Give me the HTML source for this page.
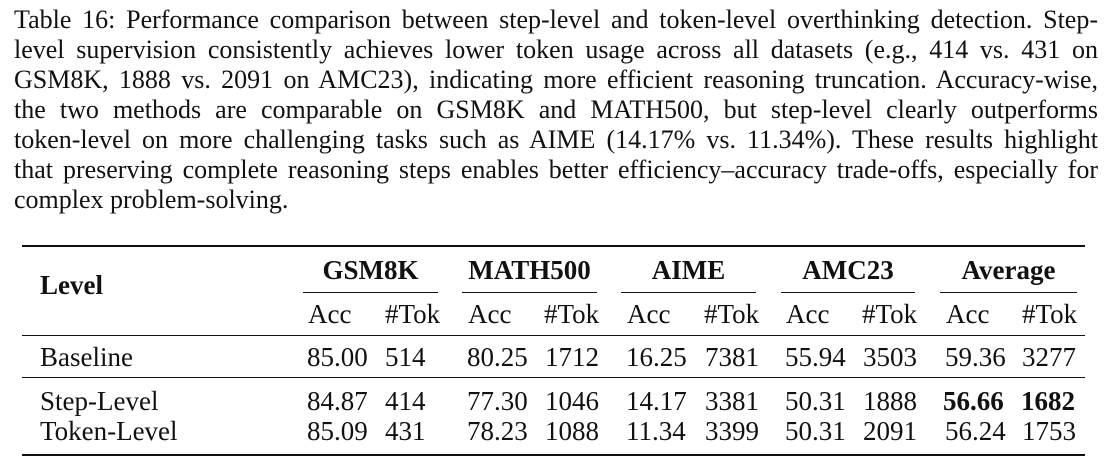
<!DOCTYPE html>
<html><head><meta charset="utf-8"><style>
body{margin:0;width:1112px;height:464px;background:#fff;position:relative;overflow:hidden;font-family:"Liberation Serif",serif;color:#111;}
.l{position:absolute;left:14px;width:1084px;font-size:26px;line-height:30px;white-space:nowrap;text-align:justify;text-align-last:justify;}
.t{position:absolute;font-size:27px;line-height:28px;white-space:nowrap;}
.c{text-align:center;}
.r{position:absolute;background:#111;}
b{font-weight:bold;}
</style></head><body>
<div class="l" style="top:5px">Table 16: Performance comparison between step-level and token-level overthinking detection. Step-</div>
<div class="l" style="top:35px">level supervision consistently achieves lower token usage across all datasets (e.g., 414 vs. 431 on</div>
<div class="l" style="top:65px">GSM8K, 1888 vs. 2091 on AMC23), indicating more efficient reasoning truncation. Accuracy-wise,</div>
<div class="l" style="top:95px">the two methods are comparable on GSM8K and MATH500, but step-level clearly outperforms</div>
<div class="l" style="top:125px">token-level on more challenging tasks such as AIME (14.17% vs. 11.34%). These results highlight</div>
<div class="l" style="top:155px">that preserving complete reasoning steps enables better efficiency–accuracy trade-offs, especially for</div>
<div class="l" style="top:185px;text-align-last:left">complex problem-solving.</div>

<div class="r" style="left:22px;top:245px;width:1063px;height:2px"></div>
<div class="r" style="left:303px;top:292px;width:135px;height:1px"></div>
<div class="r" style="left:462px;top:292px;width:135px;height:1px"></div>
<div class="r" style="left:621px;top:292px;width:135px;height:1px"></div>
<div class="r" style="left:781px;top:292px;width:134px;height:1px"></div>
<div class="r" style="left:940px;top:292px;width:137px;height:1px"></div>
<div class="r" style="left:22px;top:335px;width:1063px;height:1px"></div>
<div class="r" style="left:22px;top:377px;width:1063px;height:1px"></div>
<div class="r" style="left:22px;top:454px;width:1063px;height:2px"></div>

<div class="t" style="left:40px;top:271px"><b>Level</b></div>
<div class="t c" style="left:303px;width:135px;top:256px"><b>GSM8K</b></div>
<div class="t c" style="left:462px;width:135px;top:256px"><b>MATH500</b></div>
<div class="t c" style="left:621px;width:135px;top:256px"><b>AIME</b></div>
<div class="t c" style="left:781px;width:134px;top:256px"><b>AMC23</b></div>
<div class="t c" style="left:940px;width:137px;top:256px"><b>Average</b></div>

<div class="t" style="left:308px;top:300px">Acc</div><div class="t" style="left:385px;top:300px">#Tok</div>
<div class="t" style="left:468px;top:300px">Acc</div><div class="t" style="left:544px;top:300px">#Tok</div>
<div class="t" style="left:627px;top:300px">Acc</div><div class="t" style="left:704px;top:300px">#Tok</div>
<div class="t" style="left:786px;top:300px">Acc</div><div class="t" style="left:862px;top:300px">#Tok</div>
<div class="t" style="left:946px;top:300px">Acc</div><div class="t" style="left:1022px;top:300px">#Tok</div>

<div class="t" style="left:40px;top:343px">Baseline</div>
<div class="t" style="left:307px;top:343px">85.00</div><div class="t" style="left:385px;top:343px">514</div>
<div class="t" style="left:467px;top:343px">80.25</div><div class="t" style="left:545px;top:343px">1712</div>
<div class="t" style="left:626px;top:343px">16.25</div><div class="t" style="left:705px;top:343px">7381</div>
<div class="t" style="left:785px;top:343px">55.94</div><div class="t" style="left:863px;top:343px">3503</div>
<div class="t" style="left:945px;top:343px">59.36</div><div class="t" style="left:1022px;top:343px">3277</div>

<div class="t" style="left:40px;top:387px">Step-Level</div>
<div class="t" style="left:307px;top:387px">84.87</div><div class="t" style="left:385px;top:387px">414</div>
<div class="t" style="left:467px;top:387px">77.30</div><div class="t" style="left:545px;top:387px">1046</div>
<div class="t" style="left:626px;top:387px">14.17</div><div class="t" style="left:705px;top:387px">3381</div>
<div class="t" style="left:785px;top:387px">50.31</div><div class="t" style="left:863px;top:387px">1888</div>
<div class="t" style="left:943px;top:387px"><b>56.66</b></div><div class="t" style="left:1021px;top:387px"><b>1682</b></div>

<div class="t" style="left:40px;top:417px">Token-Level</div>
<div class="t" style="left:307px;top:417px">85.09</div><div class="t" style="left:385px;top:417px">431</div>
<div class="t" style="left:467px;top:417px">78.23</div><div class="t" style="left:545px;top:417px">1088</div>
<div class="t" style="left:626px;top:417px">11.34</div><div class="t" style="left:705px;top:417px">3399</div>
<div class="t" style="left:785px;top:417px">50.31</div><div class="t" style="left:863px;top:417px">2091</div>
<div class="t" style="left:945px;top:417px">56.24</div><div class="t" style="left:1022px;top:417px">1753</div>
</body></html>
